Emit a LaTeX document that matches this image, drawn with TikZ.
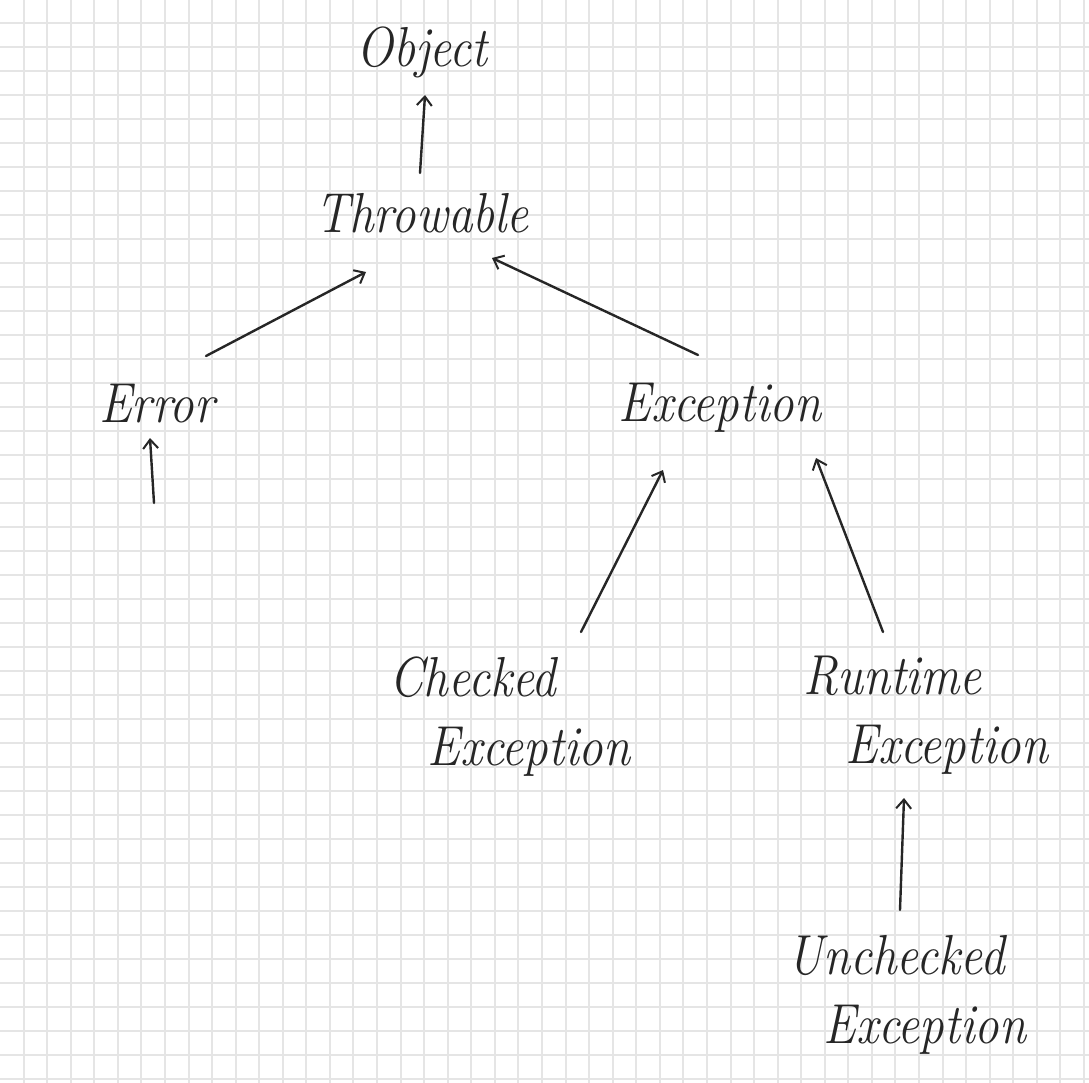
\documentclass[tikz,border=0pt]{standalone}
\usetikzlibrary{arrows.meta}
\definecolor{gridc}{RGB}{229,229,229}
\definecolor{pencil}{RGB}{38,38,38}
\tikzset{
  lbl/.style={inner sep=0pt, text=pencil, yscale=1.15, transform shape,
              font=\fontsize{49}{60}\selectfont\itshape},
  lbltwo/.style={lbl, align=left},
  pen/.style={draw=pencil, line width=2.4pt, line cap=round, line join=round},
  arr/.style={pen, -{Straight Barb[length=9pt,width=15pt,line width=2pt]}},
  gridline/.style={draw=gridc, line width=1.8pt},
}
\begin{document}
\begin{tikzpicture}[x=1pt,y=-1pt]
\useasboundingbox (0,0) rectangle (1089,1083);
\fill[white] (0,0) rectangle (1089,1083);
\foreach \k in {1,...,46} \draw[gridline] ({round(\k*23.565)},0) -- ({round(\k*23.565)},1083);
\foreach \k in {1,...,45} \draw[gridline] (0,{round(\k*23.98-0.5)}) -- (1089,{round(\k*23.98-0.5)});

\node[lbl] (obj) at (422,52) {Object};
\node[lbl] (thr) at (422,213) {Throwable};
\node[lbl] (err) at (157,404) {Error};
\node[lbl] (exc) at (720,408) {Exception};
\node[lbltwo] (chk) at (510,717) {Checked\\\hspace*{38pt}Exception};
\node[lbltwo] (run) at (926,715) {Runtime\\\hspace*{42pt}Exception};
\node[lbltwo] (unc) at (907,995) {Unchecked\\\hspace*{36pt}Exception};
\coordinate (errfoot) at (154,503);

\draw[arr] ([shift={(-2,-40)}]thr.center) -- ([shift={(3,43)}]obj.center);
\draw[arr] ([shift={(49,-48)}]err.center) -- ([shift={(-56,59)}]thr.center);
\draw[arr] ([shift={(-22,-53)}]exc.center) -- ([shift={(70,45)}]thr.center);
\draw[arr] (errfoot) -- ([shift={(-7,34)}]err.center);
\draw[arr] ([shift={(71,-85)}]chk.center) -- ([shift={(-57,62)}]exc.center);
\draw[arr] ([shift={(-43,-83)}]run.center) -- ([shift={(96,50)}]exc.center);
\draw[arr] ([shift={(-7,-85)}]unc.center) -- ([shift={(-22,83)}]run.center);
\end{tikzpicture}
\end{document}
